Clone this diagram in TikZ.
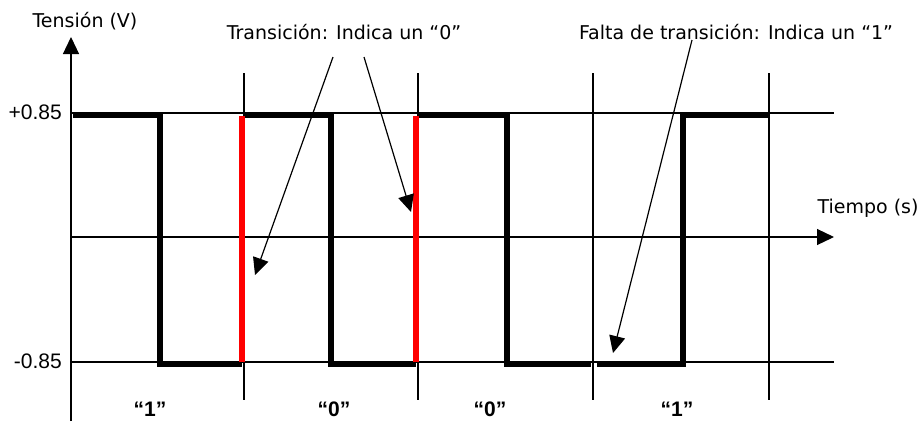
\documentclass[tikz,border=0pt]{standalone}
\usepackage{fontspec}
\setmainfont{Liberation Sans}
\newfontfamily\comicfont{DejaVu Sans}
\usetikzlibrary{arrows.meta}

\begin{document}
\begin{tikzpicture}[x=1pt, y=-1pt, >={Triangle[length=17pt, width=16pt]}]
\tikzset{
  thinline/.style={line width=1.2pt},
  signal/.style={line width=6pt, black},
  redge/.style={line width=6pt, red},
  note/.style={font=\comicfont\fontsize{19}{21}\selectfont, inner sep=0pt},
  level/.style={font=\fontsize{21}{23}\selectfont, anchor=east, inner sep=0pt},
  bit/.style={font=\bfseries\fontsize{21}{23}\selectfont, inner sep=0pt},
}
\useasboundingbox (0,0) rectangle (921,421);

% --- Axes ---
\coordinate (ybot) at (71,421);
\coordinate (ytop) at (71,37);
\coordinate (xleft) at (71,237);
\coordinate (xright) at (834,237);
\draw[thinline, ->] (ybot) -- (ytop);
\draw[thinline, ->] (xleft) -- (xright);

% --- Levels and bit boundaries ---
\foreach \y in {113, 362} {
    \draw[thinline] (71,\y) -- (834,\y);
}
\foreach \x in {244, 418, 593, 769} {
    \draw[thinline] (\x,73) -- (\x,400);
}

% --- Signal ---
\draw[signal] (73,115) -- (160,115) -- (160,364) -- (242,364);
\draw[signal] (245,115) -- (331,115) -- (331,364) -- (416,364);
\draw[signal] (419,115) -- (507,115) -- (507,364) -- (591,364);
\draw[signal] (597,364) -- (683,364) -- (683,115) -- (769,115);
\draw[redge] (242,362) -- (242,116);
\draw[redge] (416,362) -- (416,116);

% --- Labels ---
\node[note] (vlab) at (85,21) {Tensión (V)};
\node[note] (tlab) at (868,208) {Tiempo (s)};
\node[note] (trans) at (344,32) {Transición: Indica un “0”};
\node[note] (falta) at (736,32) {Falta de transición: Indica un “1”};
\node[level] (vhi) at (62,112.5) {+0.85};
\node[level] (vlo) at (62,361) {-0.85};
\foreach \x/\b [count=\i] in {150/1, 334/0, 490/0, 677/1} {
    \node[bit] (bit\i) at (\x,409) {“\b”};
}

% --- Pointers ---
\coordinate (transA) at (333,57);
\coordinate (transB) at (364,57);
\coordinate (faltaA) at (692,40);
\coordinate (edgeA) at (255,275);
\coordinate (edgeB) at (411,212);
\coordinate (flatA) at (613,353);
\draw[thinline, ->] (transA) -- (edgeA);
\draw[thinline, ->] (transB) -- (edgeB);
\draw[thinline, ->] (faltaA) -- (flatA);

\end{tikzpicture}
\end{document}
